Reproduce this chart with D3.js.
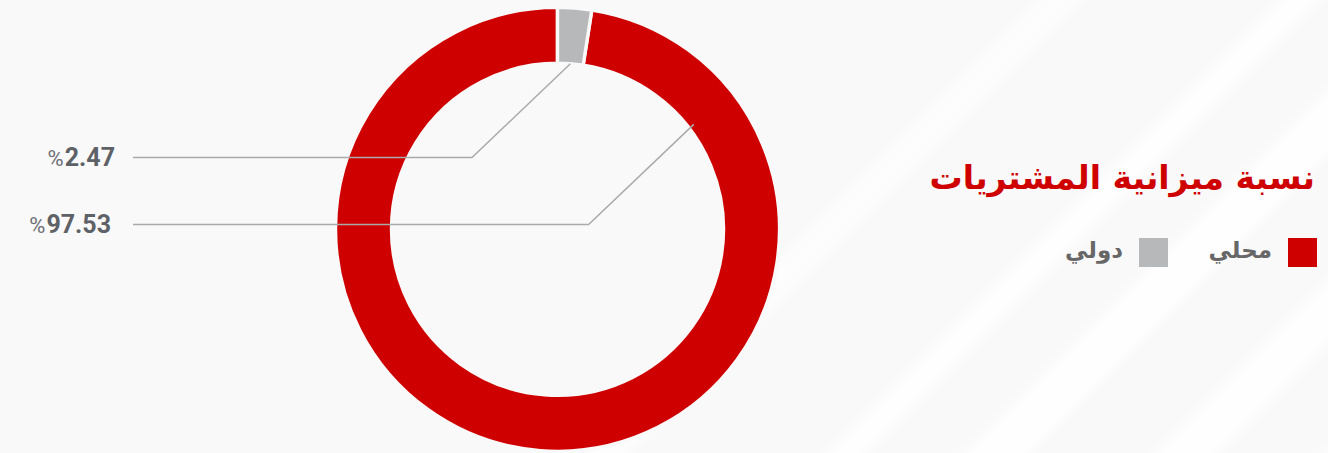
<!DOCTYPE html>
<html>
    <head>
        <meta charset="utf-8">
        <title>نسبة ميزانية المشتريات</title>
        <script src="https://cdn.jsdelivr.net/npm/d3@7"></script>
        <style>
            html, body { margin: 0; padding: 0; background: #f9f9f9; }
            svg { display: block; }
        </style>
    </head>
    <body>
        <svg width="1328" height="453" id="mainsvg"></svg>
        <script>
            // data
            const categories = ['محلي', 'دولي']
            const values = [97.53, 2.47]
            const colors = ['#cf0000', '#b7b8ba']
            const title = 'نسبة ميزانية المشتريات'

            const svg = d3.select('#mainsvg')
            const width = +svg.attr('width')
            const height = +svg.attr('height')

            //// background with soft diagonal stripes
            const defs = svg.append('defs')
            defs.append('filter').attr('id', 'soft')
                .attr('x', '-50%').attr('y', '-50%').attr('width', '200%').attr('height', '200%')
                .append('feGaussianBlur').attr('stdDeviation', 6)
            svg.append('rect').attr('width', width).attr('height', height).attr('fill', '#f9f9f9')
            const stripes = [
                {sum: 1060, w: 30, o: 0.7},
                {sum: 1300, w: 26, o: 0.9},
                {sum: 1450, w: 44, o: 0.9},
                {sum: 1640, w: 44, o: 0.9},
                {sum: 1800, w: 30, o: 0.8}
            ]
            svg.append('g').attr('filter', 'url(#soft)')
                .selectAll('line').data(stripes).join('line')
                .attr('x1', d => d.sum - height - 60).attr('y1', height + 60)
                .attr('x2', d => d.sum + 60).attr('y2', -60)
                .attr('stroke', '#ffffff')
                .attr('stroke-opacity', d => d.o)
                .attr('stroke-width', d => d.w)

            //// donut
            const cx = 557.5, cy = 229.3
            const outerR = 222, innerR = 166
            const g = svg.append('g').attr('transform', `translate(${cx}, ${cy})`)

            const slices = categories.map((c, i) => ({name: c, value: values[i], color: colors[i]}))
            const pie = d3.pie().value(d => d.value).sort((a, b) => a.value - b.value)
            const arcs = pie(slices)
            const arc = d3.arc().innerRadius(innerR).outerRadius(outerR)

            g.selectAll('path')
                .data(arcs)
                .join('path')
                .attr('d', arc)
                .attr('fill', d => d.data.color)
                .attr('stroke', '#f9f9f9')
                .attr('stroke-width', 3.4)

            //// leader lines + labels (left column, in clockwise order)
            const rowY = [157.5, 224.5]
            const labelRight = [115, 111]
            const lineEndX = 133
            const polar = (a, r) => [Math.sin(a) * r, -Math.cos(a) * r]
            const ordered = arcs.slice().sort((a, b) => a.startAngle - b.startAngle)
            ordered.forEach((d, i) => {
                const share = d.data.value / d3.sum(values)
                // small slice: anchor at its middle; large slice: anchor upper right
                const ang = share < 0.2 ? (d.startAngle + d.endAngle) / 2 : 52.4 * Math.PI / 180
                const rr = share < 0.2 ? innerR : innerR + 6
                const [ax, ay] = polar(ang, rr)
                const y = rowY[i] - cy
                const ex = ax - (y - ay) * 1.05
                g.append('polyline')
                    .attr('points', [[ax, ay], [ex, y], [lineEndX - cx, y]].map(p => p.join(',')).join(' '))
                    .attr('fill', 'none')
                    .attr('stroke', '#aaaaaa')
                    .attr('stroke-width', 1.5)

                const t = svg.append('text')
                    .attr('x', labelRight[i])
                    .attr('y', rowY[i] + 8)
                    .attr('text-anchor', 'end')
                    .attr('fill', '#5e6166')
                    .attr('font-family', 'Roboto, sans-serif')
                    .attr('font-weight', 700)
                t.append('tspan').attr('font-size', 22).attr('font-weight', 400).attr('fill', '#6e7075').text('%')
                t.append('tspan').attr('font-size', 25).attr('dx', 1).text(d.data.value.toFixed(2))
            })

            //// title
            svg.append('text')
                .attr('x', 1315)
                .attr('y', 189)
                .attr('text-anchor', 'end')
                .attr('fill', '#cf0000')
                .attr('font-family', 'DejaVu Sans, sans-serif')
                .attr('font-weight', 700)
                .attr('font-size', 33)
                .text(title)

            //// legend
            const legendX = [1288, 1139]
            const legend = svg.selectAll('g.legend')
                .data(slices)
                .join('g')
                .attr('class', 'legend')
                .attr('transform', (d, i) => `translate(${legendX[i]}, 238)`)
            legend.append('rect')
                .attr('width', 29).attr('height', 29)
                .attr('fill', d => d.color)
            legend.append('text')
                .attr('x', -16)
                .attr('y', 20)
                .attr('text-anchor', 'end')
                .attr('fill', '#676767')
                .attr('font-family', 'DejaVu Sans, sans-serif')
                .attr('font-weight', 700)
                .attr('font-size', 23)
                .text(d => d.name)
        </script>
    </body>
</html>
